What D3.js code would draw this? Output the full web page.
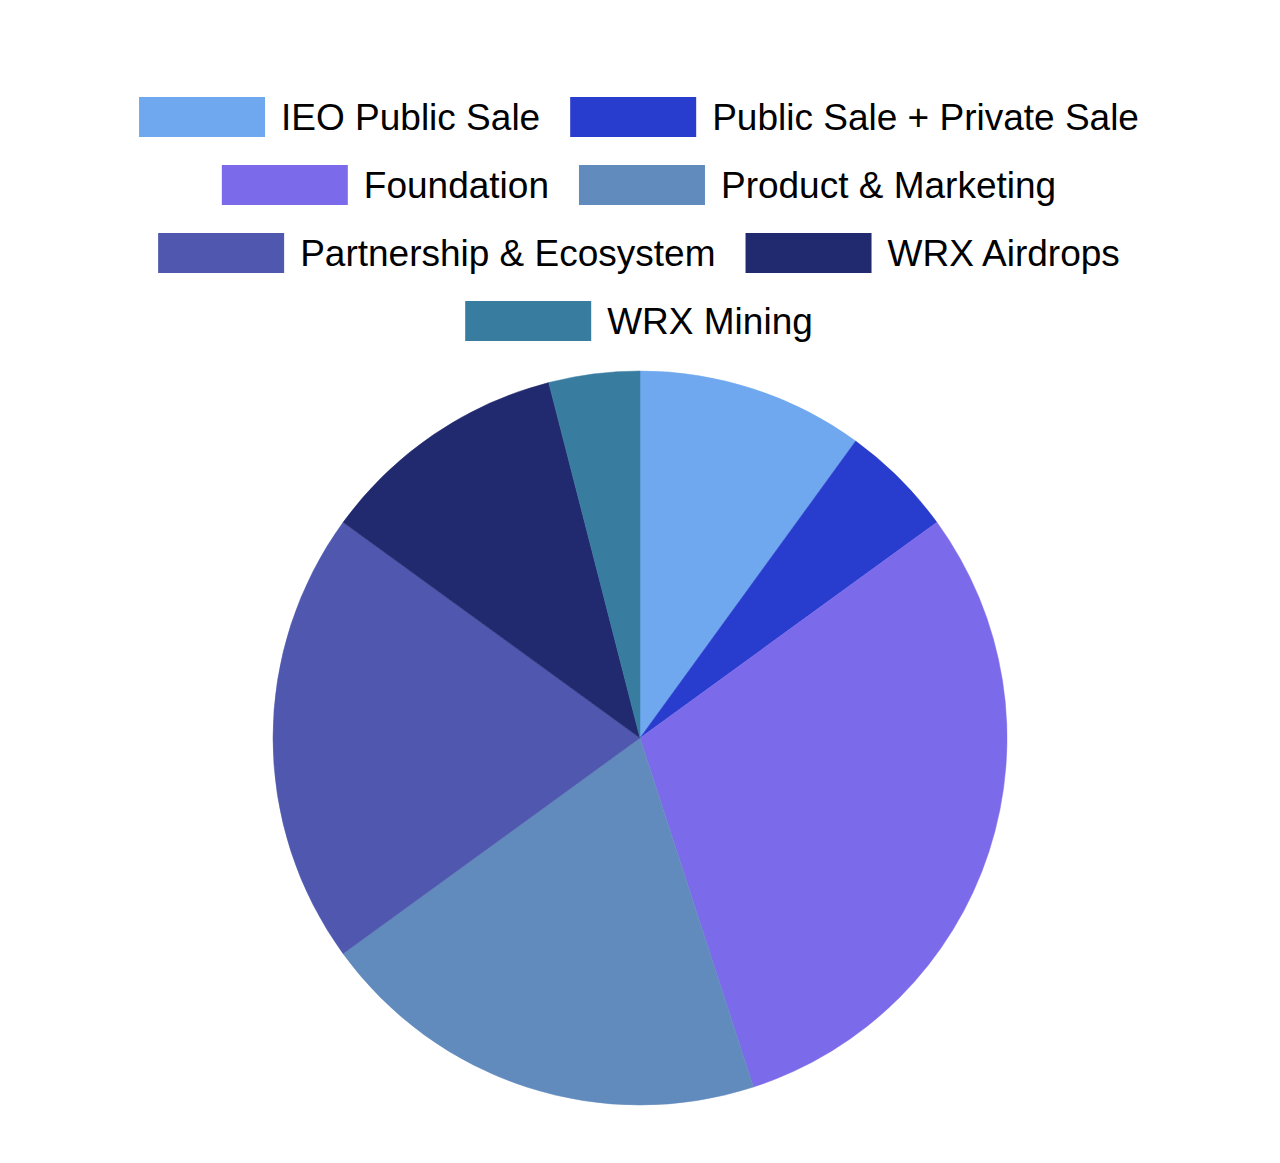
<!DOCTYPE html>
<html>
<head>
<meta charset="utf-8">
<script src="https://cdn.jsdelivr.net/npm/d3@7"></script>
<style>
  html, body { margin: 0; padding: 0; background: #ffffff; }
  svg { display: block; }
</style>
</head>
<body>
<svg id="chart" width="1280" height="1163"></svg>
<script>
const categories = ["IEO Public Sale", "Public Sale + Private Sale", "Foundation", "Product & Marketing", "Partnership & Ecosystem", "WRX Airdrops", "WRX Mining"];
const values = [10, 5, 30, 20, 20, 11, 4];
const colors = ["#6fa8ef", "#283cce", "#7b6aea", "#628bbd", "#4f58ae", "#222a6f", "#387ca0"];
const legendRows = [[0, 1], [2, 3], [4, 5], [6]];

const svg = d3.select("#chart");
const cx = 640, cy = 738, R = 367;

const data = categories.map((c, i) => ({ name: c, value: values[i], color: colors[i] }));

const pie = d3.pie().sort(null).value(d => d.value);
const arc = d3.arc().innerRadius(0).outerRadius(R);

svg.append("g")
  .attr("transform", `translate(${cx},${cy})`)
  .selectAll("path")
  .data(pie(data))
  .join("path")
  .attr("d", arc)
  .attr("fill", d => d.data.color)
  .attr("stroke", d => d.data.color)
  .attr("stroke-width", 0.5);

// Legend
const fontFam = "Liberation Sans, Arial, Helvetica, sans-serif";
const fontSize = 37;
const swW = 126, swH = 40, gapText = 16, gapItem = 30;
const rowY0 = 117, rowStep = 68;
const legend = svg.append("g").attr("font-family", fontFam).attr("font-size", fontSize);

const measure = svg.append("text").attr("font-family", fontFam).attr("font-size", fontSize).attr("visibility", "hidden");
function textW(s) { measure.text(s); return measure.node().getComputedTextLength(); }

legendRows.forEach((row, ri) => {
  const widths = row.map(i => swW + gapText + textW(categories[i]));
  const total = d3.sum(widths) + gapItem * (row.length - 1);
  let x = 639 - total / 2;
  const y = rowY0 + ri * rowStep;
  row.forEach((i, k) => {
    legend.append("rect")
      .attr("x", x).attr("y", y - swH / 2)
      .attr("width", swW).attr("height", swH)
      .attr("fill", colors[i]);
    legend.append("text")
      .attr("x", x + swW + gapText).attr("y", y)
      .attr("dy", "0.35em")
      .attr("fill", "#000")
      .text(categories[i]);
    x += widths[k] + gapItem;
  });
});
measure.remove();
</script>
</body>
</html>
